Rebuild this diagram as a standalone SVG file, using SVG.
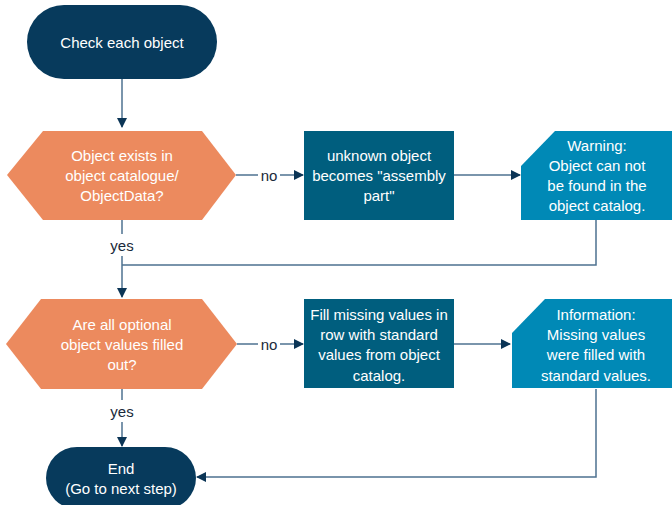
<svg xmlns="http://www.w3.org/2000/svg" width="672" height="505" viewBox="0 0 672 505">
<defs>
<marker id="ah" markerWidth="10" markerHeight="10" refX="9" refY="5" orient="auto" markerUnits="userSpaceOnUse">
<path d="M0,0 L10,5 L0,10 Z" fill="#0B3556"/>
</marker>
<style>
text{font-family:"Liberation Sans",Arial,sans-serif;font-size:15px;fill:#FFFFFF;text-anchor:middle;dominant-baseline:central}
.lbl{fill:#1A2A3A}
.term{fill:#073A5C}
.dec{fill:#EC8A5E}
.proc{fill:#005E7E}
.note{fill:#0089B6}
.ln{fill:none;stroke:#4E7290;stroke-width:1.5}
</style>
</defs>
<rect width="672" height="505" fill="#FFFFFF"/>
<g id="connectors">
<path class="ln" d="M122,79 V127" marker-end="url(#ah)"/>
<path class="ln" d="M236,175 H258"/>
<path class="ln" d="M280,175 H303" marker-end="url(#ah)"/>
<text class="lbl" x="269" y="175">no</text>
<path class="ln" d="M454,175 H520" marker-end="url(#ah)"/>
<path class="ln" d="M122,220 V234"/>
<path class="ln" d="M122,256 V297" marker-end="url(#ah)"/>
<text class="lbl" x="122" y="245">yes</text>
<path class="ln" d="M596,220 V265 H122"/>
<path class="ln" d="M237,344 H258"/>
<path class="ln" d="M280,344 H303" marker-end="url(#ah)"/>
<text class="lbl" x="269" y="344">no</text>
<path class="ln" d="M454,344 H510" marker-end="url(#ah)"/>
<path class="ln" d="M122,389 V400"/>
<path class="ln" d="M122,422 V446" marker-end="url(#ah)"/>
<text class="lbl" x="122" y="411">yes</text>
<path class="ln" d="M596,389 V477 H197" marker-end="url(#ah)"/>
</g>
<g id="start">
<rect class="term" x="27" y="5" width="190" height="74" rx="37"/>
<text x="122" y="42">Check each object</text>
</g>
<g id="decision1">
<polygon class="dec" points="7,175 43,131 202,131 236,175 202,220 43,220"/>
<text x="122" y="155">Object exists in</text>
<text x="122" y="175">object catalogue/</text>
<text x="122" y="195">ObjectData?</text>
</g>
<g id="process1">
<rect class="proc" x="304" y="131" width="150" height="89"/>
<text x="379" y="155">unknown object</text>
<text x="379" y="175">becomes "assembly</text>
<text x="379" y="195">part"</text>
</g>
<g id="warning">
<polygon class="note" points="521,166 555,131 675,131 675,220 521,220"/>
<text x="597" y="145">Warning:</text>
<text x="597" y="165">Object can not</text>
<text x="597" y="185">be found in the</text>
<text x="597" y="205">object catalog.</text>
</g>
<g id="decision2">
<polygon class="dec" points="6,344 41,299 202,299 237,344 202,389 41,389"/>
<text x="122" y="324">Are all optional</text>
<text x="122" y="344">object values filled</text>
<text x="122" y="364">out?</text>
</g>
<g id="process2">
<rect class="proc" x="304" y="299" width="150" height="89"/>
<text x="379" y="314">Fill missing values in</text>
<text x="379" y="334">row with standard</text>
<text x="379" y="354">values from object</text>
<text x="379" y="375">catalog.</text>
</g>
<g id="information">
<polygon class="note" points="512,333 545,299 675,299 675,388 512,388"/>
<text x="596" y="314">Information:</text>
<text x="596" y="334">Missing values</text>
<text x="596" y="354">were filled with</text>
<text x="596" y="375">standard values.</text>
</g>
<g id="end">
<rect class="term" x="46" y="447" width="150" height="62" rx="31"/>
<text x="121" y="468">End</text>
<text x="121" y="488">(Go to next step)</text>
</g>
</svg>
